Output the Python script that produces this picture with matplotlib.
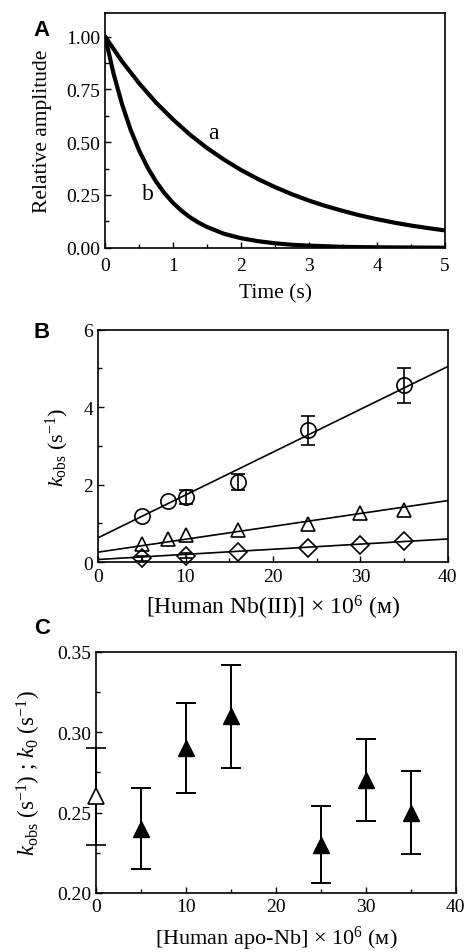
import matplotlib
matplotlib.use("Agg")
import matplotlib.pyplot as plt
from matplotlib.ticker import MultipleLocator

plt.rcParams['font.family'] = ['Liberation Serif', 'DejaVu Serif']
plt.rcParams['mathtext.fontset'] = 'custom'
plt.rcParams['mathtext.rm'] = 'Liberation Serif'
plt.rcParams['mathtext.it'] = 'Liberation Serif:italic'

# ---- Panel A data ----
t_a = [0, 0.25, 0.5, 0.75, 1.0, 1.25, 1.5, 1.75, 2.0, 2.25, 2.5, 2.75, 3.0,
       3.25, 3.5, 3.75, 4.0, 4.25, 4.5, 4.75, 5.0]
amp_a = [1.0, 0.882, 0.779, 0.687, 0.607, 0.535, 0.472, 0.417, 0.368, 0.325,
         0.287, 0.253, 0.223, 0.197, 0.174, 0.153, 0.135, 0.119, 0.105, 0.093, 0.082]
t_b = [0, 0.125, 0.25, 0.375, 0.5, 0.625, 0.75, 0.875, 1.0, 1.125, 1.25, 1.375,
       1.5, 1.75, 2.0, 2.25, 2.5, 2.75, 3.0, 3.5, 4.0, 4.5, 5.0]
amp_b = [1.0, 0.824, 0.679, 0.559, 0.461, 0.380, 0.313, 0.258, 0.212, 0.175,
         0.144, 0.119, 0.098, 0.066, 0.045, 0.031, 0.021, 0.014, 0.010, 0.004,
         0.002, 0.001, 0.0004]

# ---- Panel B data ----
circ_x = [5, 8, 10, 16, 24, 35]
circ_y = [1.20, 1.59, 1.69, 2.07, 3.40, 4.57]
circ_err = [0, 0, 0.18, 0.21, 0.37, 0.45]
tri_x = [5, 8, 10, 16, 24, 30, 35]
tri_y = [0.47, 0.60, 0.69, 0.82, 0.99, 1.27, 1.36]
dia_x = [5, 10, 16, 24, 30, 35]
dia_y = [0.10, 0.17, 0.26, 0.36, 0.45, 0.56]
dia_err = [0.06, 0.06, 0, 0, 0, 0]
fit_x = [0, 40]
fit_circ = [0.63, 5.05]
fit_tri = [0.26, 1.59]
fit_dia = [0.07, 0.60]

# ---- Panel C data ----
apo_x = [5, 10, 15, 25, 30, 35]
apo_y = [0.240, 0.290, 0.310, 0.230, 0.270, 0.250]
apo_lo = [0.215, 0.262, 0.278, 0.206, 0.245, 0.224]
apo_hi = [0.265, 0.318, 0.342, 0.254, 0.296, 0.276]
k0_x = [0]
k0_y = [0.260]
k0_lo = [0.230]
k0_hi = [0.290]

fig = plt.figure(figsize=(4.67, 9.53), dpi=100)

def style(ax, xpad=4):
    ax.tick_params(which='both', direction='in', top=False, right=False,
                   labelsize=14, width=1.0)
    ax.tick_params(axis='x', which='major', pad=xpad)
    ax.tick_params(which='major', length=4)
    ax.tick_params(which='minor', length=3)
    for s in ax.spines.values():
        s.set_linewidth(1.2)

# Panel A
axA = fig.add_axes([0.225, 0.739, 0.728, 0.246])
axA.plot(t_a, amp_a, color='black', lw=3.0, solid_capstyle='round')
axA.plot(t_b, amp_b, color='black', lw=3.0, solid_capstyle='round')
axA.set_xlim(0, 5)
axA.set_ylim(0, 1.11)
axA.set_xticks([0, 1, 2, 3, 4, 5])
axA.set_yticks([0, 0.25, 0.5, 0.75, 1.0])
axA.set_yticklabels(['0.00', '0.25', '0.50', '0.75', '1.00'])
axA.xaxis.set_minor_locator(MultipleLocator(0.5))
axA.yaxis.set_minor_locator(MultipleLocator(0.125))
style(axA, xpad=7)
axA.set_xlabel('Time (s)', fontsize=15.5, labelpad=6)
axA.set_ylabel('Relative amplitude', fontsize=15.5, labelpad=10)
axA.text(1.6, 0.545, 'a', fontsize=17, ha='center', va='center')
axA.text(0.63, 0.255, 'b', fontsize=17, ha='center', va='center')

# Panel B
axB = fig.add_axes([0.210, 0.409, 0.749, 0.244])
axB.plot(fit_x, fit_circ, color='black', lw=1.2, zorder=2)
axB.plot(fit_x, fit_tri, color='black', lw=1.2, zorder=2)
axB.plot(fit_x, fit_dia, color='black', lw=1.2, zorder=2)
cx = [x for x, e in zip(circ_x, circ_err) if e > 0]
cy = [y for y, e in zip(circ_y, circ_err) if e > 0]
ce = [e for e in circ_err if e > 0]
axB.errorbar(cx, cy, yerr=ce, fmt='none', ecolor='black', elinewidth=1.2,
             capsize=5, capthick=1.2, zorder=3)
dx = [x for x, e in zip(dia_x, dia_err) if e > 0]
dy = [y for y, e in zip(dia_y, dia_err) if e > 0]
de = [e for e in dia_err if e > 0]
axB.errorbar(dx, dy, yerr=de, fmt='none', ecolor='black', elinewidth=1.2,
             capsize=4, capthick=1.2, zorder=3)
axB.plot(circ_x, circ_y, 'o', ms=11, mfc='none', mec='black', mew=1.2,
         zorder=4, clip_on=False)
axB.plot(tri_x, tri_y, '^', ms=9.5, mfc='none', mec='black', mew=1.2,
         zorder=4, clip_on=False)
axB.plot(dia_x, dia_y, 'D', ms=9, mfc='none', mec='black', mew=1.2,
         zorder=4, clip_on=False)
axB.set_xlim(0, 40)
axB.set_ylim(0, 6)
axB.set_xticks([0, 10, 20, 30, 40])
axB.set_yticks([0, 2, 4, 6])
axB.xaxis.set_minor_locator(MultipleLocator(5))
axB.yaxis.set_minor_locator(MultipleLocator(1))
style(axB)
axB.set_xlabel('[Human Nb(III)] \u00d7 10$^{6}$ (\u1d0d)', fontsize=17,
               labelpad=6)
axB.set_ylabel(r'$k_{\rm obs}$ (s$^{-1}$)', fontsize=16, labelpad=9)

# Panel C
axC = fig.add_axes([0.206, 0.062, 0.770, 0.253])
yerr_apo = [[y - l for y, l in zip(apo_y, apo_lo)],
            [h - y for y, h in zip(apo_y, apo_hi)]]
axC.errorbar(apo_x, apo_y, yerr=yerr_apo, fmt='^', ms=12, mfc='black',
             mec='black', ecolor='black', elinewidth=1.4, capsize=7,
             capthick=1.4)
yerr_k0 = [[y - l for y, l in zip(k0_y, k0_lo)],
           [h - y for y, h in zip(k0_y, k0_hi)]]
eb = axC.errorbar(k0_x, k0_y, yerr=yerr_k0, fmt='^', ms=12, mfc='white',
                  mec='black', mew=1.2, ecolor='black', elinewidth=1.4,
                  capsize=7, capthick=1.4, clip_on=False, zorder=5)
for art in eb.lines[1]:
    art.set_clip_on(False)
for art in eb.lines[2]:
    art.set_clip_on(False)
axC.set_xlim(0, 40)
axC.set_ylim(0.20, 0.35)
axC.set_xticks([0, 10, 20, 30, 40])
axC.set_yticks([0.20, 0.25, 0.30, 0.35])
axC.set_yticklabels(['0.20', '0.25', '0.30', '0.35'])
axC.xaxis.set_minor_locator(MultipleLocator(5))
axC.yaxis.set_minor_locator(MultipleLocator(0.025))
style(axC)
axC.set_xlabel('[Human apo-Nb] \u00d7 10$^{6}$ (\u1d0d)', fontsize=16,
               labelpad=6)
axC.set_ylabel(r'$k_{\rm obs}$ (s$^{-1}$) ; $k_0$ (s$^{-1}$)', fontsize=16.5,
               labelpad=10)

for lab, y in [('A', 30), ('B', 333), ('C', 629)]:
    fig.text(42 / 467, 1 - y / 953, lab, fontsize=16, fontweight='bold',
             family='Liberation Sans', ha='center', va='center')

fig.savefig('out.png', dpi=100)
